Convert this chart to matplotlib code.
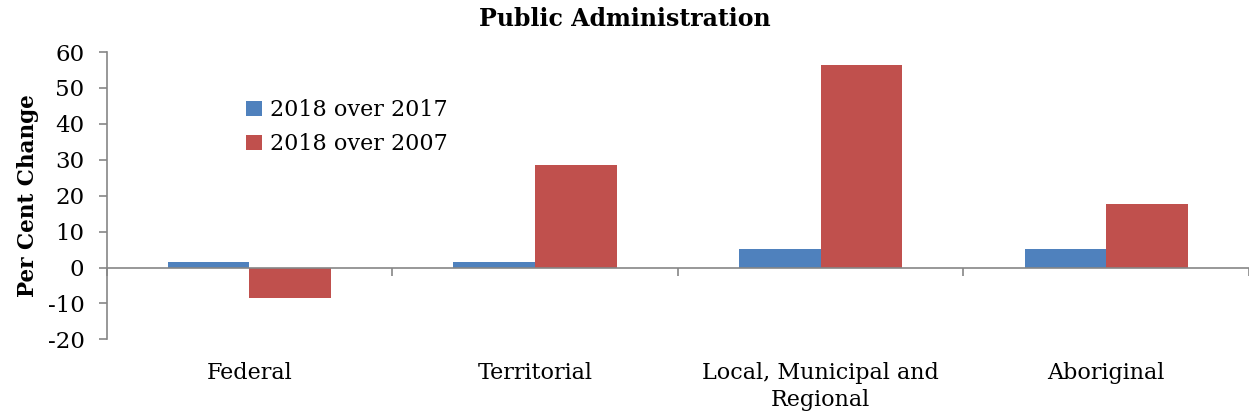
import matplotlib.pyplot as plt
import numpy as np

# 各部门公共管理就业变化（%）
categories = ['Federal', 'Territorial', 'Local, Municipal and\nRegional', 'Aboriginal']
series_names = ['2018 over 2017', '2018 over 2007']
change_1y = [1.5, 1.5, 5.1, 5.1]
change_11y = [-8.5, 28.6, 56.4, 17.7]
colors = ['#4F81BD', '#C0504D']

plt.rcParams['font.family'] = ['DejaVu Serif']
plt.rcParams['axes.unicode_minus'] = False

fig = plt.figure(figsize=(12.49, 4.2), dpi=100)
ax = fig.add_axes([0.0854, 0.192, 0.9146, 0.684])

x = np.arange(len(categories))
w = 1 / 3.5
ax.bar(x - w / 2, change_1y, w, color=colors[0], label=series_names[0])
ax.bar(x + w / 2, change_11y, w, color=colors[1], label=series_names[1])

ax.set_xlim(-0.5, len(categories) - 0.5)
ax.set_ylim(-20, 60)
ax.set_yticks(range(-20, 61, 10))

# 坐标轴样式
grey = '#868686'
for s in ['top', 'right']:
    ax.spines[s].set_visible(False)
ax.spines['left'].set_color(grey)
ax.spines['left'].set_linewidth(1.2)
ax.spines['bottom'].set_position(('data', 0))
ax.spines['bottom'].set_color(grey)
ax.spines['bottom'].set_linewidth(1.2)
ax.set_xticks(np.arange(-0.5, len(categories), 1.0))
ax.set_xticklabels([])
ax.tick_params(axis='x', length=6, color=grey, width=1.2)
ax.tick_params(axis='y', length=6, color=grey, width=1.2, labelsize=16.5, pad=10)

# 类别标签放在图底部
for xi, name in zip(x, categories):
    ax.text(xi, -0.08, name, transform=ax.get_xaxis_transform(),
            ha='center', va='top', fontsize=16, linespacing=1.3)

ax.set_ylabel('Per Cent Change', fontsize=15.5, fontweight='bold', labelpad=6)
fig.text(0.5, 1 - 19 / 420, 'Public Administration', ha='center', va='center',
         fontsize=17, fontweight='bold')

ax.legend(loc='upper left', bbox_to_anchor=(0.19, 0.785), bbox_transform=fig.transFigure,
          frameon=False, fontsize=16, handlelength=0.7, handleheight=0.7,
          handletextpad=0.35, labelspacing=0.55, borderaxespad=0)

plt.savefig('out.png', dpi=100)
